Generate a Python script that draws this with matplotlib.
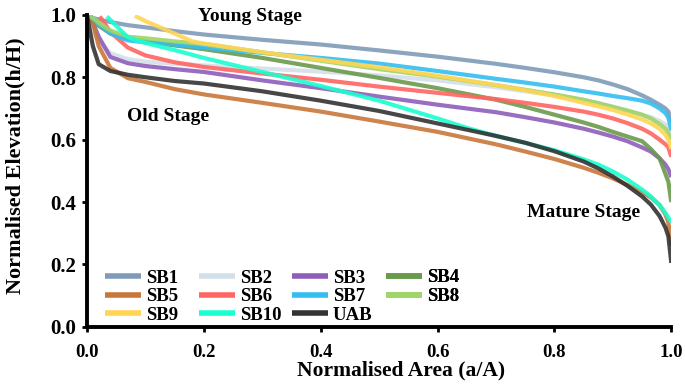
import matplotlib.pyplot as plt

plt.rcParams['font.family'] = ['Liberation Serif', 'DejaVu Serif']
plt.rcParams['font.weight'] = 'bold'

# Hypsometric curves: normalised area (a/A) vs normalised elevation (h/H)
area = [0.0, 0.01, 0.02, 0.04, 0.07, 0.1, 0.15, 0.2, 0.3, 0.4, 0.5, 0.6, 0.7,
        0.75, 0.8, 0.85, 0.875, 0.9, 0.925, 0.95, 0.965, 0.98, 0.99, 0.995, 1.0]

sb1 = [1.0, 0.99, 0.985, 0.977, 0.967, 0.96, 0.948, 0.937, 0.92, 0.905, 0.886, 0.866, 0.843,
       0.83, 0.816, 0.80, 0.79, 0.777, 0.762, 0.742, 0.728, 0.712, 0.70, 0.69, 0.66]
sb2 = [1.0, 0.95, 0.915, 0.877, 0.858, 0.85, 0.843, 0.838, 0.828, 0.818, 0.806, 0.79, 0.768,
       0.755, 0.742, 0.726, 0.717, 0.706, 0.694, 0.68, 0.672, 0.66, 0.648, 0.64, 0.62]
sb3 = [1.0, 0.975, 0.93, 0.865, 0.845, 0.836, 0.826, 0.817, 0.79, 0.765, 0.738, 0.712, 0.688,
       0.672, 0.655, 0.635, 0.623, 0.61, 0.595, 0.575, 0.562, 0.54, 0.52, 0.505, 0.48]
sb4 = [1.0, 0.98, 0.965, 0.94, 0.925, 0.915, 0.902, 0.89, 0.862, 0.83, 0.798, 0.765, 0.728,
       0.705, 0.68, 0.655, 0.641, 0.625, 0.61, 0.595, 0.57, 0.54, 0.49, 0.465, 0.40]
sb5 = [1.0, 0.975, 0.9, 0.83, 0.797, 0.785, 0.762, 0.745, 0.718, 0.69, 0.658, 0.625, 0.585,
       0.562, 0.538, 0.51, 0.494, 0.476, 0.455, 0.432, 0.415, 0.39, 0.36, 0.335, 0.26]
sb7 = [1.0, 0.99, 0.97, 0.94, 0.918, 0.912, 0.905, 0.895, 0.878, 0.862, 0.844, 0.82, 0.795,
       0.783, 0.77, 0.755, 0.748, 0.74, 0.733, 0.725, 0.716, 0.70, 0.685, 0.67, 0.63]
sb8 = [1.0, 0.99, 0.975, 0.95, 0.93, 0.925, 0.915, 0.907, 0.88, 0.853, 0.826, 0.802, 0.775,
       0.76, 0.745, 0.728, 0.717, 0.705, 0.693, 0.68, 0.668, 0.65, 0.635, 0.62, 0.60]
uab = [1.0, 0.9, 0.842, 0.82, 0.808, 0.80, 0.788, 0.78, 0.755, 0.725, 0.692, 0.652, 0.612,
       0.59, 0.563, 0.53, 0.508, 0.482, 0.452, 0.418, 0.392, 0.355, 0.318, 0.29, 0.205]

area_sb6 = [0.022, 0.04, 0.07, 0.1, 0.15, 0.2, 0.3, 0.4, 0.5, 0.6, 0.7, 0.75,
            0.8, 0.85, 0.875, 0.9, 0.925, 0.95, 0.965, 0.98, 0.99, 0.995, 1.0]
sb6 = [0.995, 0.945, 0.895, 0.87, 0.848, 0.833, 0.812, 0.792, 0.77, 0.75, 0.73, 0.718,
       0.705, 0.69, 0.68, 0.668, 0.653, 0.635, 0.62, 0.60, 0.585, 0.575, 0.545]

area_sb9 = [0.082, 0.1, 0.15, 0.18, 0.2, 0.3, 0.4, 0.5, 0.6, 0.7, 0.75,
            0.8, 0.85, 0.875, 0.9, 0.925, 0.95, 0.965, 0.98, 0.99, 0.995, 1.0]
sb9 = [0.997, 0.98, 0.94, 0.915, 0.908, 0.88, 0.856, 0.832, 0.805, 0.775, 0.758,
       0.74, 0.718, 0.707, 0.695, 0.681, 0.665, 0.652, 0.635, 0.615, 0.60, 0.57]

area_sb10 = [0.034, 0.05, 0.07, 0.1, 0.15, 0.2, 0.3, 0.4, 0.5, 0.6, 0.65, 0.7,
             0.75, 0.8, 0.85, 0.875, 0.9, 0.925, 0.95, 0.965, 0.98, 0.99, 0.995, 1.0]
sb10 = [0.995, 0.965, 0.928, 0.91, 0.887, 0.862, 0.817, 0.772, 0.725, 0.668, 0.638, 0.612,
        0.59, 0.566, 0.537, 0.52, 0.498, 0.472, 0.44, 0.418, 0.39, 0.365, 0.35, 0.335]

series = [
    ('SB1', area, sb1, '#7f9bb8'),
    ('SB2', area, sb2, '#d3dfe9'),
    ('SB3', area, sb3, '#8e5db9'),
    ('SB4', area, sb4, '#6a9a4b'),
    ('SB5', area, sb5, '#c8773a'),
    ('SB6', area_sb6, sb6, '#ff6562'),
    ('SB7', area, sb7, '#33bef0'),
    ('SB8', area, sb8, '#9fd467'),
    ('SB9', area_sb9, sb9, '#ffd555'),
    ('SB10', area_sb10, sb10, '#1affcf'),
    ('UAB', area, uab, '#333333'),
]

fig = plt.figure(figsize=(6.85, 3.91), dpi=100)
ax = fig.add_axes([0.127, 0.164, 0.853, 0.798])

handles = {}
for name, x, y, c in series:
    line, = ax.plot(x, y, color=c, lw=3, alpha=0.9, label=name,
                    solid_capstyle='butt', solid_joinstyle='round')
    handles[name] = line

ax.set_xlim(0, 1)
ax.set_ylim(0, 1)
ax.set_xticks([0, 0.2, 0.4, 0.6, 0.8, 1.0])
ax.set_yticks([0, 0.2, 0.4, 0.6, 0.8, 1.0])
ax.xaxis.set_major_formatter(plt.FormatStrFormatter('%.1f'))
ax.yaxis.set_major_formatter(plt.FormatStrFormatter('%.1f'))
ax.tick_params(direction='out', length=3.6, width=2)
ax.tick_params(axis='x', labelsize=13.5, pad=9)
ax.tick_params(axis='y', labelsize=15, pad=4)
for s in ['top', 'right']:
    ax.spines[s].set_visible(False)
for s in ['left', 'bottom']:
    ax.spines[s].set_linewidth(2.8)

ax.set_xlabel('Normalised Area (a/A)', fontsize=15.5, fontweight='bold')
ax.xaxis.set_label_coords(0.537, -0.108)
ax.set_ylabel('Normalised Elevation(h/H)', fontsize=16, fontweight='bold')
ax.yaxis.set_label_coords(-0.106, 0.516)

ax.text(0.19, 0.994, 'Young Stage', fontsize=14, fontweight='bold', va='center')
ax.text(0.068, 0.673, 'Old Stage', fontsize=14, fontweight='bold', va='center')
ax.text(0.753, 0.365, 'Mature Stage', fontsize=14, fontweight='bold', va='center')

# legend laid out as four fixed-width columns, filled row by row
columns = [['SB1', 'SB5', 'SB9'], ['SB2', 'SB6', 'SB10'],
           ['SB3', 'SB7', 'UAB'], ['SB4', 'SB8']]
col_x = [0.031, 0.192, 0.351, 0.512]
for names, cx in zip(columns, col_x):
    cy = 0.097 if len(names) == 3 else 0.127
    leg = ax.legend([handles[n] for n in names], names, loc='center left',
                    bbox_to_anchor=(cx, cy), frameon=False, fontsize=13.5,
                    handlelength=1.92, handletextpad=0.25, labelspacing=0.08,
                    borderpad=0, borderaxespad=0)
    for l in leg.get_lines():
        l.set_linewidth(4)
        l.set_alpha(1)
    ax.add_artist(leg)

fig.savefig('out.png', dpi=100)
